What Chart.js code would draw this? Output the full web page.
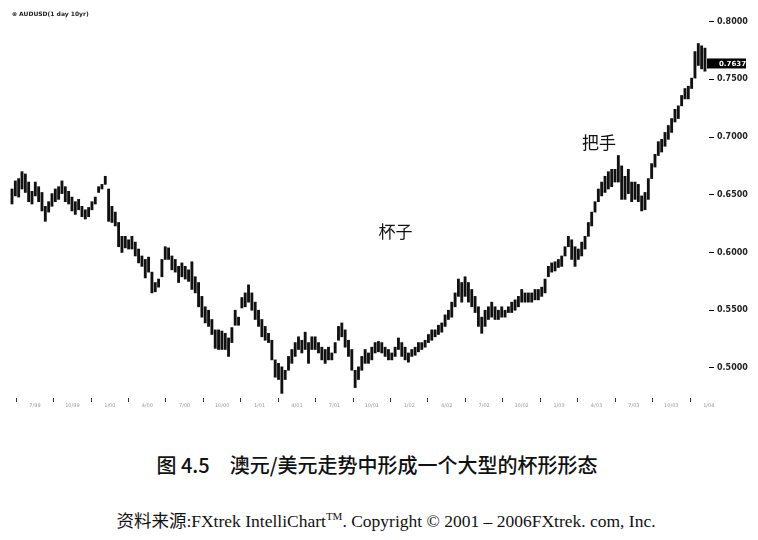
<!DOCTYPE html>
<html>
<head>
<meta charset="utf-8">
<script src="https://cdn.jsdelivr.net/npm/chart.js@4.4.1/dist/chart.umd.min.js"></script>
<style>
  html, body { margin: 0; padding: 0; background: #fff; }
  #wrap { position: relative; width: 758px; height: 540px; overflow: hidden; }
  #box { position: absolute; left: 0; top: 0; width: 758px; height: 425px; }
  #sym { position: absolute; left: 12px; top: 10px; font: bold 6px "DejaVu Sans", sans-serif; color: #222; }
  #cap1 { position: absolute; left: 0; width: 754px; top: 450px; text-align: center;
          font: 500 20px "Noto Sans CJK SC", sans-serif; color: #111; }
  #cap2 { position: absolute; left: 0; width: 772px; top: 507px; text-align: center;
          font: 17.5px "Liberation Serif", "Noto Sans CJK SC", serif; color: #111; }
  #cap2 sup { font-size: 11px; }
</style>
</head>
<body>
<div id="wrap">
  <div id="box"><canvas id="priceChart"></canvas></div>
  <div id="sym">⊕ AUDUSD(1 day 10yr)</div>
  <div id="cap1">图 4.5　澳元/美元走势中形成一个大型的杯形形态</div>
  <div id="cap2">资料来源:FXtrek IntelliChart<sup>TM</sup>. Copyright © 2001 – 2006FXtrek. com, Inc.</div>
</div>
<script>
// 澳元/美元 日线，每根柱子约 8 天的最高/最低价
const startMonth = 4.16;   // 从 1999 年 1 月算起的月份
const stepMonth = 0.267;

const highs = [
  0.655,0.662,0.664,0.670,0.668,0.661,0.653,0.661,0.657,0.652,
  0.640,0.644,0.651,0.655,0.657,0.662,0.657,0.653,0.648,0.644,
  0.646,0.640,0.637,0.639,0.644,0.648,0.657,0.659,0.666,0.655,
  0.640,0.635,0.626,0.614,0.614,0.611,0.614,0.609,0.603,0.597,
  0.594,0.596,0.583,0.574,0.577,0.594,0.605,0.604,0.597,0.594,
  0.588,0.591,0.588,0.585,0.592,0.579,0.574,0.562,0.553,0.550,
  0.542,0.533,0.533,0.532,0.530,0.526,0.535,0.550,0.544,0.561,
  0.565,0.572,0.565,0.557,0.550,0.542,0.536,0.530,0.524,0.507,
  0.504,0.501,0.498,0.510,0.516,0.522,0.527,0.524,0.531,0.522,
  0.527,0.527,0.522,0.518,0.516,0.518,0.513,0.522,0.536,0.539,
  0.533,0.524,0.516,0.498,0.501,0.510,0.516,0.513,0.518,0.522,
  0.523,0.522,0.518,0.516,0.513,0.518,0.526,0.522,0.518,0.513,
  0.516,0.518,0.522,0.522,0.524,0.529,0.533,0.533,0.537,0.539,
  0.546,0.550,0.557,0.565,0.577,0.574,0.579,0.574,0.568,0.562,
  0.553,0.544,0.550,0.553,0.557,0.553,0.550,0.553,0.550,0.553,
  0.557,0.559,0.562,0.568,0.565,0.565,0.565,0.568,0.568,0.570,
  0.577,0.588,0.591,0.592,0.594,0.597,0.605,0.614,0.611,0.605,
  0.603,0.609,0.614,0.626,0.635,0.644,0.655,0.661,0.666,0.670,
  0.672,0.672,0.684,0.675,0.666,0.672,0.661,0.661,0.659,0.649,
  0.652,0.664,0.677,0.685,0.696,0.698,0.704,0.710,0.716,0.724,
  0.727,0.736,0.742,0.744,0.751,0.774,0.781,0.779,0.777
];

const lows = [
  0.642,0.649,0.648,0.655,0.652,0.644,0.642,0.649,0.644,0.636,
  0.627,0.635,0.640,0.644,0.646,0.651,0.644,0.642,0.636,0.633,
  0.637,0.631,0.629,0.631,0.637,0.642,0.652,0.655,0.659,0.627,
  0.626,0.623,0.605,0.600,0.604,0.603,0.603,0.597,0.591,0.588,
  0.578,0.583,0.565,0.566,0.570,0.579,0.594,0.594,0.585,0.583,
  0.574,0.579,0.577,0.575,0.568,0.565,0.553,0.544,0.539,0.536,
  0.529,0.517,0.516,0.516,0.516,0.510,0.522,0.537,0.537,0.552,
  0.553,0.557,0.550,0.542,0.536,0.527,0.524,0.522,0.507,0.492,
  0.490,0.478,0.490,0.498,0.504,0.510,0.516,0.513,0.516,0.504,
  0.516,0.516,0.513,0.507,0.504,0.507,0.507,0.513,0.524,0.527,
  0.518,0.510,0.498,0.483,0.490,0.498,0.504,0.504,0.507,0.513,
  0.514,0.513,0.510,0.507,0.507,0.510,0.516,0.510,0.507,0.505,
  0.510,0.511,0.514,0.516,0.518,0.522,0.524,0.527,0.529,0.531,
  0.536,0.542,0.544,0.553,0.562,0.557,0.562,0.557,0.553,0.548,
  0.536,0.530,0.536,0.542,0.544,0.542,0.542,0.544,0.544,0.548,
  0.548,0.550,0.553,0.557,0.557,0.557,0.557,0.559,0.559,0.562,
  0.565,0.579,0.583,0.584,0.587,0.588,0.597,0.605,0.594,0.588,
  0.594,0.597,0.603,0.614,0.623,0.635,0.644,0.649,0.652,0.655,
  0.657,0.661,0.661,0.646,0.646,0.651,0.644,0.646,0.644,0.636,
  0.637,0.646,0.664,0.674,0.684,0.687,0.692,0.698,0.704,0.713,
  0.716,0.727,0.733,0.733,0.742,0.751,0.762,0.759,0.757
];

const priceTicks = [0.50, 0.55, 0.60, 0.65, 0.70, 0.75, 0.80];
const lastPrice = 0.7637;

// 标注文字
const notes = [
  { text: '杯子', month: 34.9, price: 0.618 },
  { text: '把手', month: 51.2, price: 0.695 }
];

const bars = highs.map((h, i) => ({ x: startMonth + i * stepMonth, y: [lows[i], h] }));

function monthLabel(m) {
  const y = 1999 + Math.floor(m / 12);
  const mon = (m % 12) + 1;
  return mon + '/' + String(y).slice(2);
}

const extras = {
  id: 'extras',
  afterDraw(chart) {
    const ctx = chart.ctx;
    const xs = chart.scales.x, ys = chart.scales.y;
    ctx.save();
    // 当前价格框
    const py = ys.getPixelForValue(lastPrice);
    const left = chart.chartArea.right - 2;
    ctx.fillStyle = '#000';
    ctx.fillRect(left, py - 5, 39, 10);
    ctx.fillStyle = '#fff';
    ctx.font = 'bold 7px "DejaVu Sans", sans-serif';
    ctx.textBaseline = 'middle';
    ctx.fillText(lastPrice.toFixed(4), left + 12, py + 0.5);
    // 杯子 / 把手
    ctx.fillStyle = '#111';
    ctx.font = '17px "Noto Sans CJK SC", sans-serif';
    ctx.textAlign = 'center';
    notes.forEach(n => {
      ctx.fillText(n.text, xs.getPixelForValue(n.month), ys.getPixelForValue(n.price));
    });
    ctx.restore();
  }
};

new Chart(document.getElementById('priceChart'), {
  type: 'bar',
  data: {
    datasets: [{
      data: bars,
      backgroundColor: '#111',
      borderWidth: 0,
      barThickness: 2.2,
      grouped: false
    }]
  },
  options: {
    responsive: true,
    maintainAspectRatio: false,
    animation: false,
    layout: { padding: { left: 6, top: 10, right: 0, bottom: 0 } },
    plugins: { legend: { display: false }, tooltip: { enabled: false } },
    scales: {
      x: {
        type: 'linear',
        min: 3.68,
        max: 60.02,
        offset: false,
        afterBuildTicks: axis => {
          const t = [];
          for (let m = 6; m <= 60; m += 3) t.push({ value: m });
          axis.ticks = t;
        },
        afterFit: axis => { axis.height = 27; },
        grid: { drawOnChartArea: false, drawTicks: true, tickLength: 4, color: '#333' },
        border: { display: false },
        ticks: {
          autoSkip: false,
          maxRotation: 0,
          padding: 1,
          color: '#999',
          font: { size: 5, family: 'DejaVu Sans' },
          callback: v => monthLabel(v)
        }
      },
      y: {
        position: 'right',
        min: 0.474,
        max: 0.81,
        afterBuildTicks: axis => { axis.ticks = priceTicks.map(v => ({ value: v })); },
        afterFit: axis => { axis.width = 49; },
        grid: { drawOnChartArea: false, drawTicks: true, tickLength: 5, color: '#000' },
        border: { display: false },
        ticks: {
          padding: 3,
          color: '#222',
          font: { size: 8, weight: 'bold', family: 'DejaVu Sans' },
          callback: v => v.toFixed(4)
        }
      }
    }
  },
  plugins: [extras]
});
</script>
</body>
</html>
